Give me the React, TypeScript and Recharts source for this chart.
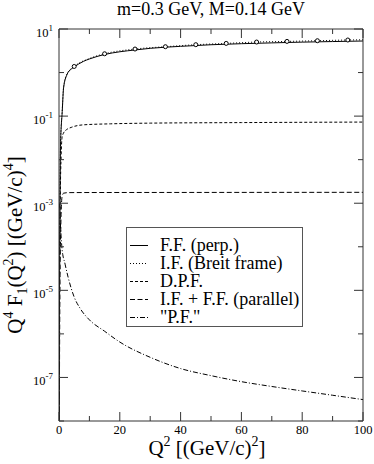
import React from 'react';
import { LineChart, Line, XAxis, YAxis, Legend } from 'recharts';

const FONT = '"Liberation Serif", "Times New Roman", serif';

const titleText = 'm=0.3 GeV, M=0.14 GeV';
const xTicks = [0, 10, 20, 30, 40, 50, 60, 70, 80, 90, 100];
const yTicks = [1e-8, 1e-7, 1e-6, 1e-5, 1e-4, 1e-3, 1e-2, 1e-1, 1, 10];

// F.F. (perp.) - solid
const ffX = [0.05, 0.15, 0.3, 0.5, 0.75, 1, 1.5, 2.6, 4, 5, 8, 10, 15, 20, 25, 30, 40, 50, 60, 70, 80, 90, 100];
const ffY = [1e-9, 1e-5, 1e-3, 0.02, 0.06, 0.107, 0.44, 0.89, 1.2, 1.35, 1.8, 2.05, 2.6, 3.0, 3.3, 3.6, 4.0, 4.35, 4.6, 4.8, 5.0, 5.15, 5.3];

// I.F. (Breit frame) - dotted
const ifX = [0.05, 0.15, 0.3, 0.5, 0.75, 1, 1.5, 2.6, 5, 10, 15, 25, 35, 45, 55, 65, 75, 85, 95, 100];
const ifY = [1e-9, 1.2e-5, 1.2e-3, 0.022, 0.065, 0.115, 0.46, 0.92, 1.38, 2.1, 2.7, 3.47, 3.92, 4.36, 4.67, 5.02, 5.19, 5.38, 5.59, 5.65];

// circle markers
const mkX = [5, 15, 25, 35, 45, 55, 65, 75, 85, 95];
const mkY = [1.38, 2.7, 3.47, 3.92, 4.36, 4.67, 5.02, 5.19, 5.38, 5.59];

// D.P.F. - short dashes
const dpfX = [0.05, 0.2, 0.4, 0.7, 1, 1.5, 2.5, 4, 8, 17, 30, 60, 100];
const dpfY = [1e-9, 1e-5, 1e-3, 0.012, 0.032, 0.041, 0.049, 0.055, 0.063, 0.0665, 0.069, 0.071, 0.073];

// I.F. + F.F. (parallel) - long dashes
const parX = [0.05, 0.3, 0.6, 1, 1.5, 3, 10, 50, 100];
const parY = [1e-9, 1e-5, 3e-4, 1.4e-3, 1.7e-3, 1.75e-3, 1.76e-3, 1.77e-3, 1.78e-3];

// "P.F." - dash-dot
const pfX = [0.2, 0.5, 1, 2, 3, 5, 7, 10, 15, 20, 30, 40, 50, 60, 70, 80, 90, 100];
const pfY = [1e-3, 3e-4, 9e-5, 4e-5, 2e-5, 7e-6, 3.8e-6, 2.1e-6, 1.15e-6, 6.5e-7, 2.9e-7, 1.6e-7, 1.1e-7, 8e-8, 6.2e-8, 4.9e-8, 3.9e-8, 3.1e-8];

const legendLabels = ['F.F. (perp.)', 'I.F. (Breit frame)', 'D.P.F.', 'I.F. + F.F. (parallel)', '"P.F."'];
const legendDashes = ['', '1 2', '3 2', '5 2.5', '5 2 1 2'];

const mk = (xs: number[], ys: number[]) => xs.map((x, i) => ({ x, y: ys[i] }));

const AX = '#333';

const XTickBottom = (props: any) => {
  const { x, y, payload } = props;
  const v = payload.value;
  const major = v % 20 === 0;
  return (
    <g>
      <line x1={x} x2={x} y1={y} y2={y - (major ? 9 : 5)} stroke={AX} />
      {major && (
        <text x={x} y={y + 13} textAnchor="middle" fontSize={12.5} fontFamily={FONT} fill="#000">
          {v}
        </text>
      )}
    </g>
  );
};

const XTickTop = (props: any) => {
  const { x, y, payload } = props;
  const major = payload.value % 20 === 0;
  return <line x1={x} x2={x} y1={y} y2={y + (major ? 9 : 5)} stroke={AX} />;
};

const YTickLeft = (props: any) => {
  const { x, y, payload } = props;
  const e = Math.round(Math.log10(payload.value));
  const major = Math.abs(e % 2) === 1;
  return (
    <g>
      <line x1={x} x2={x + (major ? 9 : 5)} y1={y} y2={y} stroke={AX} />
      {major && (
        <text x={x - 6} y={y + 7.5} textAnchor="end" fontSize={12.5} fontFamily={FONT} fill="#000">
          <tspan>10</tspan>
          <tspan dy={-5.5} fontSize={9}>{String(e)}</tspan>
        </text>
      )}
    </g>
  );
};

const YTickRight = (props: any) => {
  const { x, y, payload } = props;
  const e = Math.round(Math.log10(payload.value));
  const major = Math.abs(e % 2) === 1;
  return <line x1={x} x2={x - (major ? 9 : 5)} y1={y} y2={y} stroke={AX} />;
};

const XLabel = (props: any) => {
  const vb = props.viewBox || { x: 59, y: 421, width: 304 };
  return (
    <text x={vb.x + vb.width / 2 - 4} y={455} textAnchor="middle" fontSize={21} fontFamily={FONT} fill="#000">
      <tspan>Q</tspan>
      <tspan dy={-9} fontSize={14}>2</tspan>
      <tspan dy={9}> [(GeV/c)</tspan>
      <tspan dy={-9} fontSize={14}>2</tspan>
      <tspan dy={9}>]</tspan>
    </text>
  );
};

const TitleLabel = (props: any) => {
  const vb = props.viewBox || { x: 59, y: 29, width: 304 };
  return (
    <text x={vb.x + vb.width / 2} y={15} textAnchor="middle" fontSize={18} fontFamily={FONT} fill="#000">
      {titleText}
    </text>
  );
};

const YLabel = (props: any) => {
  const vb = props.viewBox || { x: 59, y: 29, height: 392 };
  const cx = 22;
  const cy = vb.y + vb.height / 2 + 20;
  return (
    <text x={cx} y={cy} transform={`rotate(-90 ${cx} ${cy})`} textAnchor="middle" fontSize={21} fontFamily={FONT} fill="#000">
      <tspan>Q</tspan>
      <tspan dy={-9} fontSize={14}>4</tspan>
      <tspan dy={9}> F</tspan>
      <tspan dy={5} fontSize={14}>1</tspan>
      <tspan dy={-5}>(Q</tspan>
      <tspan dy={-9} fontSize={14}>2</tspan>
      <tspan dy={9}>) [(GeV/c)</tspan>
      <tspan dy={-9} fontSize={14}>4</tspan>
      <tspan dy={9}>]</tspan>
    </text>
  );
};

const renderLegend = () => (
  <div
    style={{
      width: 177,
      height: 100,
      border: '1px solid #555',
      boxSizing: 'border-box',
      background: '#fff',
      fontFamily: FONT,
      fontSize: 18,
      color: '#000',
      paddingTop: 8,
    }}
  >
    {legendLabels.map((name, i) => (
      <div key={name} style={{ display: 'flex', alignItems: 'center', height: 18 }}>
        <svg width={33} height={18} style={{ display: 'block', flex: 'none' }}>
          <line x1={3} x2={21} y1={9.5} y2={9.5} stroke="#000" strokeWidth={1} strokeDasharray={legendDashes[i] || undefined} />
        </svg>
        <span style={{ lineHeight: '18px', whiteSpace: 'nowrap' }}>{name}</span>
      </div>
    ))}
  </div>
);

export default function App() {
  return (
    <div style={{ position: 'absolute', left: 0, top: 0, width: 374, height: 464, background: '#fff' }}>
      <LineChart width={374} height={464} margin={{ top: 19, right: 6, bottom: 23, left: 29 }}>
        <XAxis
          xAxisId="b"
          type="number"
          dataKey="x"
          domain={[0, 100]}
          ticks={xTicks}
          allowDataOverflow
          height={20}
          tickSize={0}
          tickMargin={0}
          tickLine={false}
          axisLine={{ stroke: AX }}
          tick={<XTickBottom />}
          interval={0}
          label={<XLabel />}
        />
        <XAxis
          xAxisId="t"
          orientation="top"
          type="number"
          dataKey="x"
          domain={[0, 100]}
          ticks={xTicks}
          allowDataOverflow
          height={10}
          tickSize={0}
          tickMargin={0}
          tickLine={false}
          axisLine={{ stroke: AX }}
          tick={<XTickTop />}
          interval={0}
          label={<TitleLabel />}
        />
        <YAxis
          yAxisId="l"
          scale="log"
          type="number"
          domain={[1e-8, 10]}
          ticks={yTicks}
          allowDataOverflow
          width={30}
          tickSize={0}
          tickMargin={0}
          tickLine={false}
          axisLine={{ stroke: AX }}
          tick={<YTickLeft />}
          interval={0}
          label={<YLabel />}
        />
        <YAxis
          yAxisId="r"
          orientation="right"
          scale="log"
          type="number"
          domain={[1e-8, 10]}
          ticks={yTicks}
          allowDataOverflow
          width={5}
          tickSize={0}
          tickMargin={0}
          tickLine={false}
          axisLine={{ stroke: AX }}
          tick={<YTickRight />}
          interval={0}
        />
        <Legend
          layout="vertical"
          align="center"
          verticalAlign="middle"
          content={renderLegend}
          wrapperStyle={{ left: 126, top: 227, width: 177, height: 100 }}
        />
        <Line xAxisId="b" yAxisId="l" data={mk(pfX, pfY)} dataKey="y" type="monotone" stroke="#000" strokeWidth={1} strokeDasharray="5 2 1 2" dot={false} isAnimationActive={false} />
        <Line xAxisId="b" yAxisId="l" data={mk(parX, parY)} dataKey="y" type="monotone" stroke="#000" strokeWidth={1} strokeDasharray="5 2.5" dot={false} isAnimationActive={false} />
        <Line xAxisId="b" yAxisId="l" data={mk(dpfX, dpfY)} dataKey="y" type="monotone" stroke="#000" strokeWidth={1} strokeDasharray="3 2" dot={false} isAnimationActive={false} />
        <Line xAxisId="b" yAxisId="l" data={mk(ifX, ifY)} dataKey="y" type="monotone" stroke="#000" strokeWidth={1} strokeDasharray="1 2" dot={false} isAnimationActive={false} />
        <Line xAxisId="b" yAxisId="l" data={mk(ffX, ffY)} dataKey="y" type="monotone" stroke="#000" strokeWidth={1} dot={false} isAnimationActive={false} />
        <Line xAxisId="b" yAxisId="l" data={mk(mkX, mkY)} dataKey="y" stroke="none" dot={{ r: 2, stroke: '#000', strokeWidth: 1, fill: '#fff' }} isAnimationActive={false} legendType="none" />
      </LineChart>
    </div>
  );
}
